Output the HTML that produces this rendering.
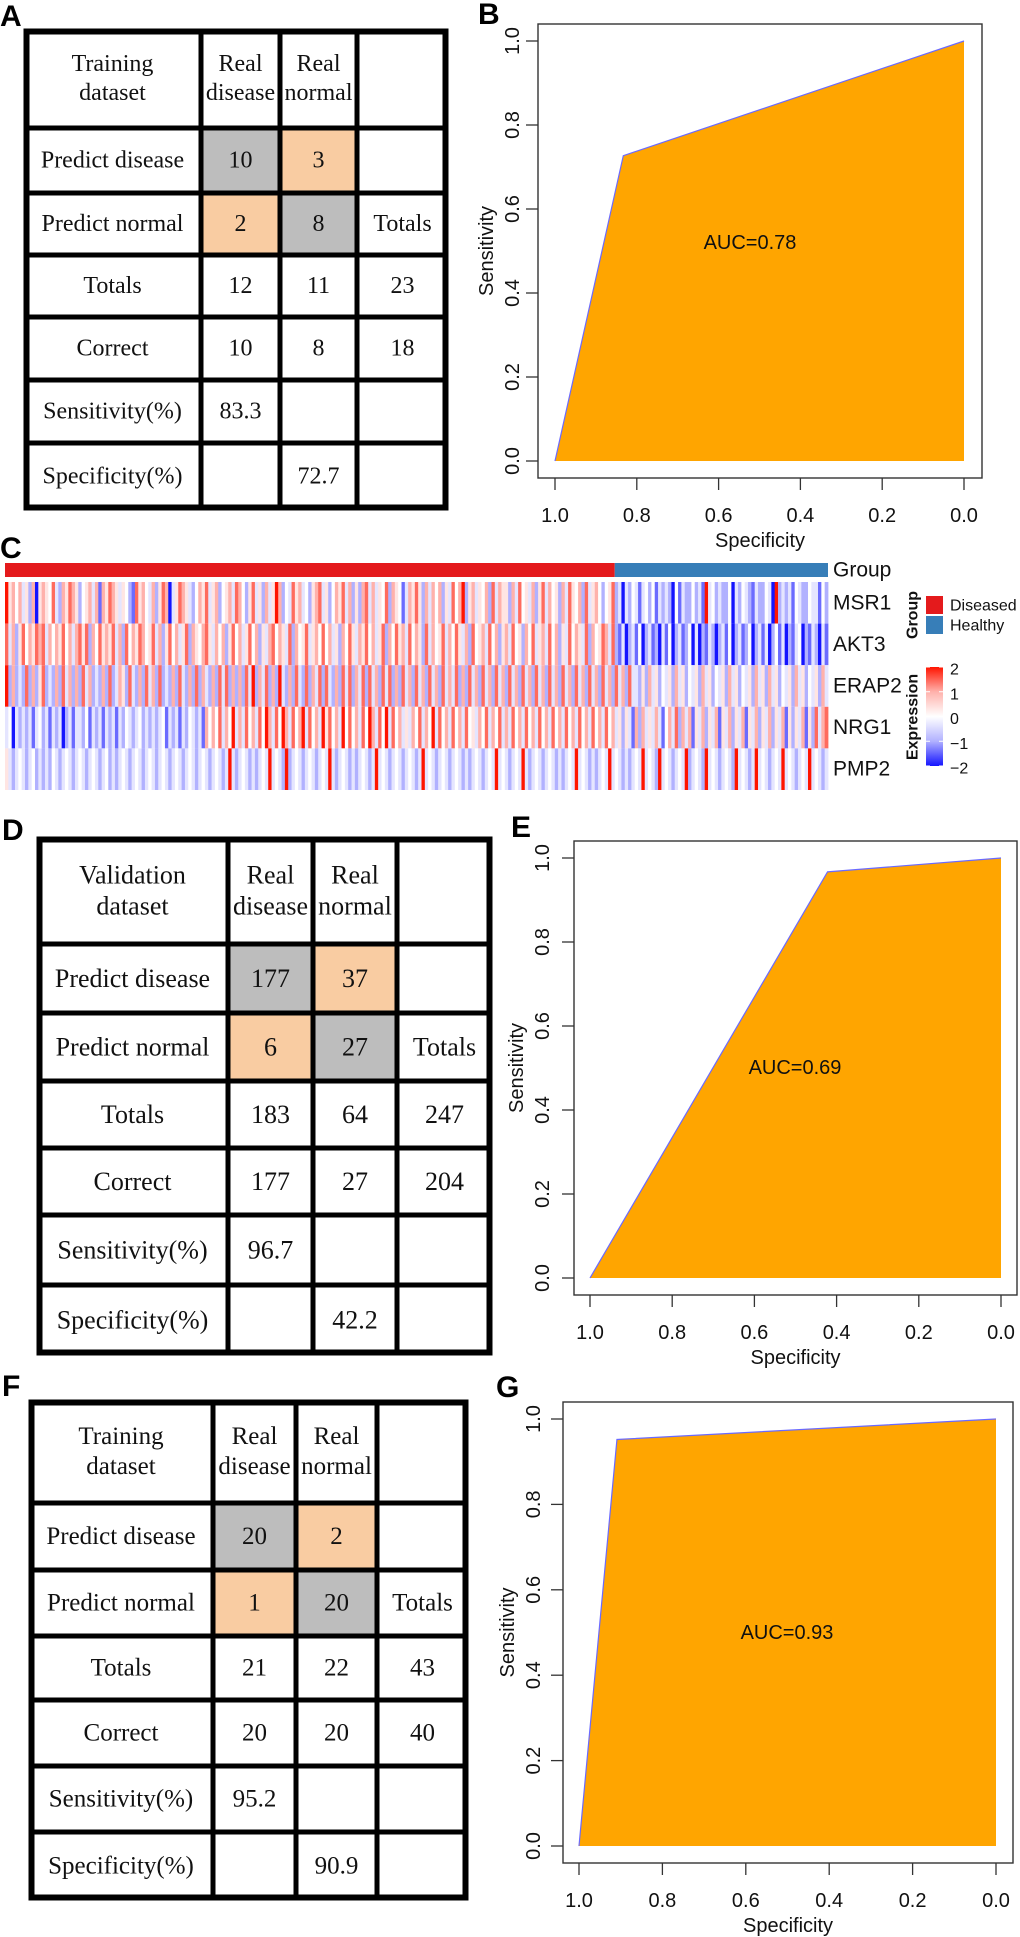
<!DOCTYPE html>
<html><head><meta charset="utf-8"><title>Diagnostic model figure</title>
<style>
html,body{margin:0;padding:0;background:#fff;}
svg{display:block;}
.tt{font-family:"Liberation Serif",serif;fill:#111;}
.ss{font-family:"Liberation Sans",sans-serif;fill:#111;}
.lab{font-family:"Liberation Sans",sans-serif;font-weight:bold;font-size:30px;fill:#000;}
</style></head>
<body>
<svg id="fig" width="1020" height="1937" viewBox="0 0 1020 1937" xmlns="http://www.w3.org/2000/svg">
<text class="lab" x="0" y="26">A</text>
<text class="lab" x="478" y="24">B</text>
<text class="lab" x="0" y="558">C</text>
<text class="lab" x="2" y="840">D</text>
<text class="lab" x="511" y="837">E</text>
<text class="lab" x="2" y="1396">F</text>
<text class="lab" x="496" y="1397">G</text>
</svg>
<script>
// ---------- data ----------
const tableAHeader = ["Training|dataset", "Real|disease", "Real|normal", ""];
const tableARows = [["Predict disease","10","3",""],["Predict normal","2","8","Totals"],["Totals","12","11","23"],["Correct","10","8","18"],["Sensitivity(%)","83.3","",""],["Specificity(%)","","72.7",""]];
const tableDHeader = ["Validation|dataset", "Real|disease", "Real|normal", ""];
const tableDRows = [["Predict disease","177","37",""],["Predict normal","6","27","Totals"],["Totals","183","64","247"],["Correct","177","27","204"],["Sensitivity(%)","96.7","",""],["Specificity(%)","","42.2",""]];
const tableFHeader = ["Training|dataset", "Real|disease", "Real|normal", ""];
const tableFRows = [["Predict disease","20","2",""],["Predict normal","1","20","Totals"],["Totals","21","22","43"],["Correct","20","20","40"],["Sensitivity(%)","95.2","",""],["Specificity(%)","","90.9",""]];

const rocSpecB = [1, 0.833, 0];
const rocSensB = [0, 0.727, 1];
const aucB = "AUC=0.78";
const rocSpecE = [1, 0.422, 0];
const rocSensE = [0, 0.967, 1];
const aucE = "AUC=0.69";
const rocSpecG = [1, 0.909, 0];
const rocSensG = [0, 0.952, 1];
const aucG = "AUC=0.93";
const axisTicks = [1.0, 0.8, 0.6, 0.4, 0.2, 0.0];
const axisTickLabels = ["1.0","0.8","0.6","0.4","0.2","0.0"];

const heatGenes = ["MSR1","AKT3","ERAP2","NRG1","PMP2"];
const heatGroupCounts = [183, 64];
const heatGroupNames = ["Diseased","Healthy"];
// expression levels per sample: digit d -> (d-4)/2
const heatMSR1 = "856463526056547326576524563616576535421756436257603576532465735624563764257352635862437563425673524657362526736354726541365752636462537468256354627365526374536257364526375462735642457" + "2303243134241323204132242318342322403243213224308232314322433142";
const heatAKT3 = "736257465767364657463675726475657362746576457362574635726546753646257463574625367465372645735647463526475365746357264756374652736457364753627456374625637452647356374625374653726457637" + "2130231402312031402312403021320231402312402313024130213402132031";
const heatERAP2 = "826232726257232627362627362326272365273262736272326273262726326273726262738263726283262732726372732627372637273627372627362736273627363726273627362736273627362736273627362736273627362736273" + "3252635243526352435263524352635243526352635243526352435263526352";
const heatNRG1 = "340323231342313230231332413231323132432342323234132313243231646473648363746374863748637468374638574638474637486374837463536473648374637463745364736473637463746374637463746374637463746" + "3525316263536314637263615362536153625361536253625361525361527367";
const heatPMP2 = "532343234232324323432343234323423234323432343234323432343234323432383234323234383432823432343234383234323234323834323432343238343234323432323432343834323438323432343232343834323234383432323" + "4383432834323438234328343234328343238343234383432343834323438343";
const colorbarTicks = [2, 1, 0, -1, -2];
const colorbarLabels = ["2","1","0","\u22121","\u22122"];

// ---------- helpers ----------
const NS = "http://www.w3.org/2000/svg";
const svg = document.getElementById("fig");
function mk(tag, attrs, parent) {
  const e = document.createElementNS(NS, tag);
  for (const k in attrs) e.setAttribute(k, attrs[k]);
  (parent || svg).appendChild(e);
  return e;
}
function txt(str, x, y, cls, size, extra, parent) {
  const t = mk("text", Object.assign({x: x, y: y, "class": cls, "font-size": size, "text-anchor": "middle", "dominant-baseline": "central"}, extra || {}), parent);
  t.textContent = str;
  return t;
}

// ---------- tables ----------
function drawTable(id, header, rows, cols, rowsY, fs) {
  const g = mk("g", {});
  
  
  const fills = {"0,1": "#bdbdbd", "0,2": "#f9cca2", "1,1": "#f9cca2", "1,2": "#bdbdbd"};
  for (const key in fills) {
    const [r, c] = key.split(",").map(Number);
    const cell = mk("rect", {x: cols[c], y: rowsY[r + 1], width: cols[c + 1] - cols[c], height: rowsY[r + 2] - rowsY[r + 1], fill: fills[key]}, g);
    
    
  }
  header.forEach((h, c) => {
    if (!h) return;
    const parts = h.split("|");
    const cx = (cols[c] + cols[c + 1]) / 2, cy = (rowsY[0] + rowsY[1]) / 2;
    parts.forEach((p, i) => {
      const t = txt(p, cx, cy + (i - (parts.length - 1) / 2) * fs * 1.2, "tt", fs, {}, g);
      
      
    });
  });
  rows.forEach((row, r) => {
    row.forEach((v, c) => {
      if (!v) return;
      const t = txt(v, (cols[c] + cols[c + 1]) / 2, (rowsY[r + 1] + rowsY[r + 2]) / 2, "tt", fs, {}, g);
      
      
    });
  });
  const x0 = cols[0], x1 = cols[cols.length - 1], y0 = rowsY[0], y1 = rowsY[rowsY.length - 1];
  for (let i = 1; i < cols.length - 1; i++) mk("line", {x1: cols[i], x2: cols[i], y1: y0, y2: y1, stroke: "#000", "stroke-width": 5}, g);
  for (let i = 1; i < rowsY.length - 1; i++) mk("line", {x1: x0, x2: x1, y1: rowsY[i], y2: rowsY[i], stroke: "#000", "stroke-width": 5}, g);
  mk("rect", {x: x0 + 2.5, y: y0 + 2.5, width: x1 - x0 - 5, height: y1 - y0 - 5, fill: "none", stroke: "#000", "stroke-width": 6}, g);
}
drawTable("confusion-table-training", tableAHeader, tableARows, [24, 201, 280, 357, 448], [29, 128, 193, 255, 317, 380, 443, 510], 24);
drawTable("confusion-table-validation", tableDHeader, tableDRows, [37, 228, 313, 397, 492], [837, 944, 1013, 1081, 1148, 1215, 1285, 1355], 26);
drawTable("confusion-table-training-2", tableFHeader, tableFRows, [29, 213, 296, 377, 468], [1400, 1503, 1570, 1636, 1700, 1766, 1832, 1900], 25);

// ---------- ROC plots ----------
function drawROC(id, spec, sens, auc, P) {
  const g = mk("g", {});
  
  
  const xs = s => P.x0 + (1 - s) * (P.x1 - P.x0);
  const ys = v => P.y0 - v * (P.y0 - P.y1);
  let pts = spec.map((s, i) => xs(s) + "," + ys(sens[i]));
  const poly = mk("polygon", {points: pts.concat([xs(spec[spec.length - 1]) + "," + ys(0)]).join(" "), fill: "#FFA500"}, g);
  
  
  const line = mk("polyline", {points: pts.join(" "), fill: "none", stroke: "#6a6aff", "stroke-width": 1.2}, g);
  
  
  const box = mk("rect", {x: P.bx0, y: P.by0, width: P.bx1 - P.bx0, height: P.by1 - P.by0, fill: "none", stroke: "#333", "stroke-width": 1.4}, g);
  
  
  axisTicks.forEach((t, i) => {
    const x = xs(t);
    mk("line", {x1: x, x2: x, y1: P.by1, y2: P.by1 + 12, stroke: "#333", "stroke-width": 1.3}, g);
    const xl = txt(axisTickLabels[i], x, P.by1 + 38, "ss", 20, {}, g);
    
    
    const y = ys(t);
    mk("line", {x1: P.bx0, x2: P.bx0 - 12, y1: y, y2: y, stroke: "#333", "stroke-width": 1.3}, g);
    const yl = txt(axisTickLabels[i], P.ylx, y, "ss", 20, {transform: "rotate(-90 " + P.ylx + " " + y + ")"}, g);
    
    
  });
  const xt = txt("Specificity", (P.bx0 + P.bx1) / 2, P.by1 + 63, "ss", 20, {}, g);
  
  
  const ymid = (P.by0 + P.by1) / 2;
  const yt = txt("Sensitivity", P.ytx, ymid, "ss", 20, {transform: "rotate(-90 " + P.ytx + " " + ymid + ")"}, g);
  
  
  const at = txt(auc, P.ax, P.ay, "ss", 20, {}, g);
  
  
}
drawROC("roc-plot-training", rocSpecB, rocSensB, aucB, {x0: 555, x1: 964, y0: 461, y1: 41, bx0: 538, bx1: 982, by0: 24, by1: 478, ylx: 513, ytx: 487, ax: 750, ay: 243});
drawROC("roc-plot-validation", rocSpecE, rocSensE, aucE, {x0: 590, x1: 1001, y0: 1278, y1: 858, bx0: 574, bx1: 1017, by0: 841, by1: 1295, ylx: 543, ytx: 517, ax: 795, ay: 1068});
drawROC("roc-plot-training-2", rocSpecG, rocSensG, aucG, {x0: 579, x1: 996, y0: 1846, y1: 1419, bx0: 563, bx1: 1013, by0: 1402, by1: 1863, ylx: 534, ytx: 508, ax: 787, ay: 1633});

// ---------- heatmap ----------
(function () {
  const g = mk("g", {});
  
  
  const X0 = 5, X1 = 828, Y0 = 582, Y1 = 790;
  const rowsData = [heatMSR1, heatAKT3, heatERAP2, heatNRG1, heatPMP2];
  const n = Math.min.apply(null, rowsData.map(s => s.length));
  const cw = (X1 - X0) / n, rh = (Y1 - Y0) / rowsData.length;
  function col(v) {
    const t = Math.pow(Math.min(1, Math.abs(v) / 2), 1.6);
    if (v >= 0) return "rgb(255," + Math.round(255 - t * 235) + "," + Math.round(255 - t * 255) + ")";
    return "rgb(" + Math.round(255 - t * 235) + "," + Math.round(255 - t * 235) + ",255)";
  }
  const total = heatGroupCounts[0] + heatGroupCounts[1];
  const split = X0 + (X1 - X0) * heatGroupCounts[0] / total;
  const gb1 = mk("rect", {x: X0, y: 563, width: split - X0, height: 14, fill: "#E41A1C"}, g);
  
  
  const gb2 = mk("rect", {x: split, y: 563, width: X1 - split, height: 14, fill: "#377EB8"}, g);
  
  
  rowsData.forEach((s, r) => {
    for (let i = 0; i < n; i++) {
      const v = (parseInt(s[i], 10) - 4) / 2;
      const c = mk("rect", {x: X0 + i * cw, y: Y0 + r * rh, width: cw + 0.4, height: rh, fill: col(v)}, g);
      
      
    }
    const gl = txt(heatGenes[r], 833, Y0 + (r + 0.5) * rh, "ss", 21, {"text-anchor": "start"}, g);
    
    
  });
  const grl = txt("Group", 833, 570, "ss", 21, {"text-anchor": "start"}, g);
  
  
  const lg = txt("Group", 913, 615, "ss", 16, {"font-weight": "bold", transform: "rotate(-90 913 615)"}, g);
  
  
  const sw = ["#E41A1C", "#377EB8"];
  heatGroupNames.forEach((nm, i) => {
    const r = mk("rect", {x: 926, y: 596 + i * 20, width: 17, height: 18, fill: sw[i]}, g);
    
    
    const t = txt(nm, 950, 606 + i * 20, "ss", 16, {"text-anchor": "start"}, g);
    
    
  });
  const defs = mk("defs", {}, g);
  const lgr = mk("linearGradient", {id: "cbar", x1: 0, y1: 0, x2: 0, y2: 1}, defs);
  [[0, col(2)], [0.25, col(1)], [0.5, col(0)], [0.75, col(-1)], [1, col(-2)]].forEach(s => mk("stop", {offset: s[0], "stop-color": s[1]}, lgr));
  const cb = mk("rect", {x: 926, y: 667, width: 17, height: 99, fill: "url(#cbar)"}, g);
  
  
  colorbarTicks.forEach((v, i) => {
    const y = 667 + (2 - v) / 4 * 99;
    mk("line", {x1: 926, x2: 930, y1: y, y2: y, stroke: "#fff", "stroke-width": 1}, g);
    mk("line", {x1: 939, x2: 943, y1: y, y2: y, stroke: "#fff", "stroke-width": 1}, g);
    const t = txt(colorbarLabels[i], 950, y + 3, "ss", 16, {"text-anchor": "start"}, g);
    
    
  });
  const et = txt("Expression", 913, 717, "ss", 16, {"font-weight": "bold", transform: "rotate(-90 913 717)"}, g);
  
  
})();
</script>
</body></html>
